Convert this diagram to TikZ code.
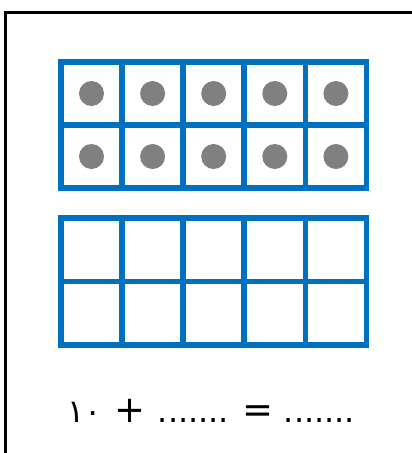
\documentclass[tikz,border=0pt]{standalone}
\usepackage{fontspec}
\usepackage{xcolor}
\TeXXeTstate=1
\newfontfamily\arabicfont{DejaVu Sans}
\definecolor{frameblue}{HTML}{0070C0}
\definecolor{dotgray}{HTML}{808080}
\newcommand{\bigsign}[1]{{\fontsize{37}{38}\selectfont #1}}

\begin{document}
\begin{tikzpicture}[x=1pt, y=-1pt,
        gridline/.style={draw=frameblue, line width=5.8pt},
        counter/.style={circle, fill=dotgray, inner sep=0pt, minimum size=25pt}]
    \useasboundingbox (0,0) rectangle (412,453);
    % page frame, only left and top edges show
    \draw[line width=3pt] (5,453) -- (5,12) -- (412,12);
    % upper ten frame, filled
    \draw[gridline] (61,62) rectangle (366.5,188);
    \foreach \c in {1,...,4}
        \draw[gridline] (61+61.1*\c,62) -- (61+61.1*\c,188);
    \draw[gridline] (61,125) -- (366.5,125);
    \foreach \r in {0,1}
        \foreach \c in {0,...,4}
            \node[counter] (dot-\r-\c) at (91.5+61.1*\c, 93.5+63*\r) {};
    % lower ten frame, empty
    \draw[gridline] (61,218) rectangle (366.5,345);
    \foreach \c in {1,...,4}
        \draw[gridline] (61+61.1*\c,218) -- (61+61.1*\c,345);
    \draw[gridline] (61,281.5) -- (366.5,281.5);
    % number sentence
    \node[anchor=base west, inner sep=0pt] (sum) at (67,422)
        {\arabicfont\fontsize{32}{38}\selectfont\beginR\beginL ١٠\hspace{3pt} \bigsign{+} \hspace{2pt}....... \bigsign{=} .......\endL\endR};
\end{tikzpicture}
\end{document}
